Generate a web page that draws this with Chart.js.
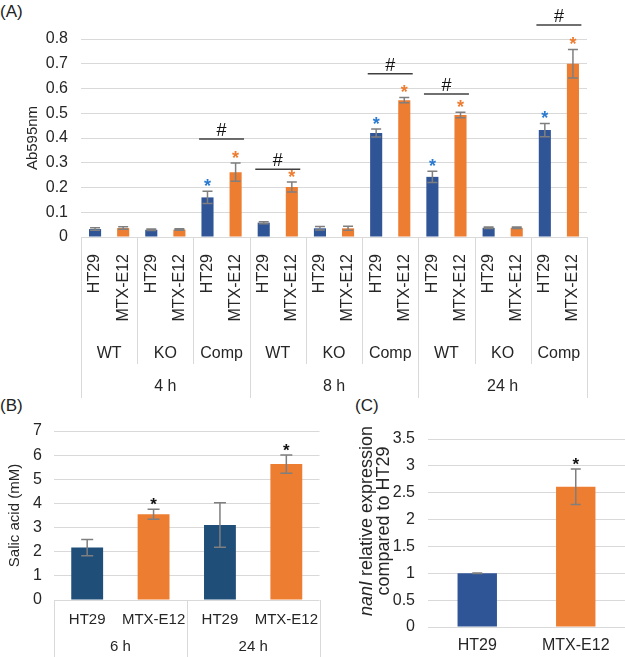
<!DOCTYPE html>
<html>
<head>
<meta charset="utf-8">
<script src="https://cdn.jsdelivr.net/npm/chart.js@4/dist/chart.umd.min.js"></script>
<style>
  body { margin: 0; background: #fff; font-family: "Liberation Sans", Arial, sans-serif; }
  #wrap { position: relative; width: 625px; height: 657px; overflow: hidden; }
  canvas { position: absolute; }
  .tag { position: absolute; font-size: 17px; color: #222; }
</style>
</head>
<body>
<div id="wrap">
  <div class="tag" style="left:0;top:2px">(A)</div>
  <div class="tag" style="left:0;top:396px">(B)</div>
  <div class="tag" style="left:355px;top:396px">(C)</div>
  <canvas id="chartA" width="625" height="400" style="left:0;top:0"></canvas>
  <canvas id="chartB" width="330" height="257" style="left:0;top:400px"></canvas>
  <canvas id="chartC" width="295" height="257" style="left:330px;top:400px"></canvas>
</div>
<script>
// ---- data ----
const cellLines = ['HT29', 'MTX-E12'];
const strainsA = ['WT', 'KO', 'Comp', 'WT', 'KO', 'Comp', 'WT', 'KO', 'Comp'];
const hoursA = ['4 h', '8 h', '24 h'];
const ht29A = [0.032, 0.029, 0.16, 0.058, 0.035, 0.42, 0.243, 0.037, 0.432];
const ht29AErr = [0.005, 0.003, 0.025, 0.004, 0.007, 0.016, 0.023, 0.003, 0.027];
const mtxA = [0.036, 0.03, 0.262, 0.202, 0.035, 0.553, 0.493, 0.037, 0.70];
const mtxAErr = [0.005, 0.003, 0.037, 0.02, 0.008, 0.011, 0.011, 0.003, 0.058];
const ht29AStar = [false, false, true, false, false, true, true, false, true];
const mtxAStar = [false, false, true, true, false, true, true, false, true];
const hashGroupsA = [2, 3, 5, 6, 8];
const hashLevelsA = [0.396, 0.274, 0.66, 0.578, 0.857];

const hoursB = ['6 h', '24 h'];
const ht29B = [2.17, 3.11];
const ht29BErr = [0.34, 0.92];
const mtxB = [3.55, 5.63];
const mtxBErr = [0.21, 0.38];
const mtxBStar = [true, true];

const valuesC = [1.0, 2.61];
const errC = [0.005, 0.33];
const starC = [false, true];

// ---- colours ----
const blue = '#2f5597';
const navy = '#1f4e79';
const orange = '#ed7d31';
const starBlue = '#2b7bd1';
const gridCol = '#d9d9d9';
const textCol = '#262626';
const FONT = '"Liberation Sans", Arial, sans-serif';

// interleave HT29 / MTX-E12 for each group
function interleave(a, b) {
  const out = [];
  a.forEach((v, i) => { out.push(v, b[i]); });
  return out;
}

function barPlugins(errs, stars, starCols, capW, starFont) {
  return {
    id: 'errbars',
    afterDatasetsDraw(chart) {
      const ctx = chart.ctx, y = chart.scales.y;
      const vals = chart.data.datasets[0].data;
      const meta = chart.getDatasetMeta(0);
      ctx.save();
      meta.data.forEach((bar, i) => {
        const e = errs[i];
        const hi = y.getPixelForValue(vals[i] + e);
        const lo = y.getPixelForValue(vals[i] - e);
        ctx.strokeStyle = '#7f7f7f';
        ctx.lineWidth = 1.5;
        ctx.beginPath();
        ctx.moveTo(bar.x, hi); ctx.lineTo(bar.x, lo);
        ctx.moveTo(bar.x - capW / 2, hi); ctx.lineTo(bar.x + capW / 2, hi);
        ctx.moveTo(bar.x - capW / 2, lo); ctx.lineTo(bar.x + capW / 2, lo);
        ctx.stroke();
        if (stars[i]) {
          ctx.fillStyle = starCols[i];
          ctx.font = starFont;
          ctx.textAlign = 'center';
          ctx.textBaseline = 'alphabetic';
          ctx.fillText('*', bar.x, hi + 1);
        }
      });
      ctx.restore();
    }
  };
}

// ---- (A) ----
const labelsA = [];
strainsA.forEach(() => labelsA.push(...cellLines));
const valuesA = interleave(ht29A, mtxA);
const errA = interleave(ht29AErr, mtxAErr);
const starA = interleave(ht29AStar, mtxAStar);
const starColA = interleave(ht29A.map(() => starBlue), mtxA.map(() => orange));

const groupAxisA = {
  id: 'groupAxisA',
  afterDraw(chart) {
    const {ctx, chartArea, scales: {x, y}} = chart;
    const top = chartArea.bottom;
    const slot = x.getPixelForValue(1) - x.getPixelForValue(0);
    ctx.save();
    ctx.strokeStyle = gridCol;
    ctx.lineWidth = 1;
    for (let i = 0; i <= strainsA.length; i++) {
      const xx = Math.round(x.getPixelForValue(i * 2) - slot / 2) + 0.5;
      const len = i % 3 === 0 ? 161 : 127;
      ctx.beginPath(); ctx.moveTo(xx, top); ctx.lineTo(xx, top + len); ctx.stroke();
    }
    ctx.fillStyle = textCol;
    ctx.font = '16px ' + FONT;
    ctx.textAlign = 'center';
    ctx.textBaseline = 'middle';
    strainsA.forEach((s, i) => {
      const cx = (x.getPixelForValue(i * 2) + x.getPixelForValue(i * 2 + 1)) / 2;
      ctx.fillText(s, cx, top + 117);
    });
    hoursA.forEach((h, i) => {
      const cx = (x.getPixelForValue(i * 6) + x.getPixelForValue(i * 6 + 5)) / 2;
      ctx.fillText(h, cx, top + 150);
    });
    // # brackets
    ctx.strokeStyle = '#404040';
    ctx.lineWidth = 1.5;
    ctx.fillStyle = '#111';
    ctx.font = '18px ' + FONT;
    ctx.textBaseline = 'alphabetic';
    hashGroupsA.forEach((g, k) => {
      const x1 = x.getPixelForValue(g * 2) - slot * 0.3;
      const x2 = x.getPixelForValue(g * 2 + 1) + slot * 0.3;
      const yy = y.getPixelForValue(hashLevelsA[k]);
      ctx.beginPath(); ctx.moveTo(x1, yy); ctx.lineTo(x2, yy); ctx.stroke();
      ctx.fillText('#', (x1 + x2) / 2, yy - 3);
    });
    ctx.restore();
  }
};

new Chart(document.getElementById('chartA'), {
  type: 'bar',
  data: {
    labels: labelsA,
    datasets: [{
      data: valuesA,
      backgroundColor: valuesA.map((v, i) => i % 2 === 0 ? blue : orange),
      barPercentage: 0.43,
      categoryPercentage: 1
    }]
  },
  options: {
    responsive: false,
    animation: false,
    layout: { padding: { top: 39, right: 38, left: 0, bottom: 0 } },
    plugins: { legend: { display: false }, tooltip: { enabled: false } },
    scales: {
      x: {
        grid: { display: false, drawTicks: false },
        border: { display: false },
        ticks: { autoSkip: false, minRotation: 90, maxRotation: 90, padding: 17, color: textCol, font: { size: 16, family: FONT } },
        afterFit: s => { s.height = 163; }
      },
      y: {
        min: 0, max: 0.8,
        ticks: { stepSize: 0.1, padding: 13, color: textCol, font: { size: 16, family: FONT },
          callback: v => String(Math.round(v * 10) / 10) },
        grid: { color: gridCol, drawTicks: false },
        border: { display: false },
        title: { display: true, text: 'Ab595nm', color: textCol, font: { size: 15, family: FONT }, padding: { top: 24, bottom: 0 } },
        afterFit: s => { s.width = 81; }
      }
    }
  },
  plugins: [barPlugins(errA, starA, starColA, 10, 'bold 18px ' + FONT), groupAxisA]
});

// ---- (B) ----
const labelsB = [];
hoursB.forEach(() => labelsB.push(...cellLines));
const valuesB = interleave(ht29B, mtxB);
const errB = interleave(ht29BErr, mtxBErr);
const starB = interleave(ht29B.map(() => false), mtxBStar);

const groupAxisB = {
  id: 'groupAxisB',
  afterDraw(chart) {
    const {ctx, chartArea, scales: {x}} = chart;
    const top = chartArea.bottom;
    const slot = x.getPixelForValue(1) - x.getPixelForValue(0);
    ctx.save();
    ctx.strokeStyle = gridCol;
    ctx.lineWidth = 1;
    for (let i = 0; i <= hoursB.length; i++) {
      const xx = Math.round(x.getPixelForValue(i * 2) - slot / 2) + 0.5;
      ctx.beginPath(); ctx.moveTo(xx, top); ctx.lineTo(xx, top + 60); ctx.stroke();
    }
    ctx.fillStyle = textCol;
    ctx.font = '15px ' + FONT;
    ctx.textAlign = 'center';
    ctx.textBaseline = 'middle';
    hoursB.forEach((h, i) => {
      const cx = (x.getPixelForValue(i * 2) + x.getPixelForValue(i * 2 + 1)) / 2;
      ctx.fillText(h, cx, top + 47);
    });
    ctx.restore();
  }
};

new Chart(document.getElementById('chartB'), {
  type: 'bar',
  data: {
    labels: labelsB,
    datasets: [{
      data: valuesB,
      backgroundColor: valuesB.map((v, i) => i % 2 === 0 ? navy : orange),
      barPercentage: 0.48,
      categoryPercentage: 1
    }]
  },
  options: {
    responsive: false,
    animation: false,
    layout: { padding: { top: 31, right: 8, left: 0, bottom: 0 } },
    plugins: { legend: { display: false }, tooltip: { enabled: false } },
    scales: {
      x: {
        grid: { display: false, drawTicks: false },
        border: { display: false },
        ticks: { autoSkip: false, maxRotation: 0, padding: 11, color: textCol, font: { size: 15, family: FONT } },
        afterFit: s => { s.height = 57; }
      },
      y: {
        min: 0, max: 7,
        ticks: { stepSize: 1, padding: 12, color: textCol, font: { size: 16, family: FONT } },
        grid: { color: gridCol, drawTicks: false },
        border: { display: false },
        title: { display: true, text: 'Salic acid (mM)', color: textCol, font: { size: 15, family: FONT }, padding: { top: 6, bottom: 0 } },
        afterFit: s => { s.width = 54; }
      }
    }
  },
  plugins: [barPlugins(errB, starB, starB.map(() => '#111'), 12, 'bold 17px ' + FONT), groupAxisB]
});

// ---- (C) ----
const titleC = {
  id: 'titleC',
  afterDraw(chart) {
    const {ctx, chartArea} = chart;
    const cy = (chartArea.top + chartArea.bottom) / 2 - 12;
    ctx.save();
    ctx.fillStyle = textCol;
    ctx.textBaseline = 'middle';
    // line 1: italic gene name + normal text
    const italic = 'italic 18px ' + FONT, normal = '18px ' + FONT;
    const gene = 'nanI', rest = ' relative expression';
    ctx.font = italic; const w1 = ctx.measureText(gene).width;
    ctx.font = normal; const w2 = ctx.measureText(rest).width;
    ctx.translate(37, cy);
    ctx.rotate(-Math.PI / 2);
    ctx.textAlign = 'left';
    ctx.font = italic; ctx.fillText(gene, -(w1 + w2) / 2, 0);
    ctx.font = normal; ctx.fillText(rest, -(w1 + w2) / 2 + w1, 0);
    ctx.textAlign = 'center';
    ctx.fillText('compared to HT29', 0, 17);
    ctx.restore();
  }
};

new Chart(document.getElementById('chartC'), {
  type: 'bar',
  data: {
    labels: cellLines,
    datasets: [{
      data: valuesC,
      backgroundColor: [blue, orange],
      barPercentage: 0.4,
      categoryPercentage: 1
    }]
  },
  options: {
    responsive: false,
    animation: false,
    layout: { padding: { top: 39, right: 0, left: 0, bottom: 0 } },
    plugins: { legend: { display: false }, tooltip: { enabled: false } },
    scales: {
      x: {
        grid: { display: false, drawTicks: false },
        border: { display: false },
        ticks: { maxRotation: 0, padding: 9, color: textCol, font: { size: 16, family: FONT } },
        afterFit: s => { s.height = 30; }
      },
      y: {
        min: 0, max: 3.5,
        ticks: { stepSize: 0.5, padding: 13, color: textCol, font: { size: 16, family: FONT },
          callback: v => String(Math.round(v * 10) / 10) },
        grid: { color: gridCol, drawTicks: false },
        border: { display: false },
        afterFit: s => { s.width = 98; }
      }
    }
  },
  plugins: [barPlugins(errC, starC, ['#111', '#111'], 10, 'bold 17px ' + FONT), titleC]
});
</script>
</body>
</html>
